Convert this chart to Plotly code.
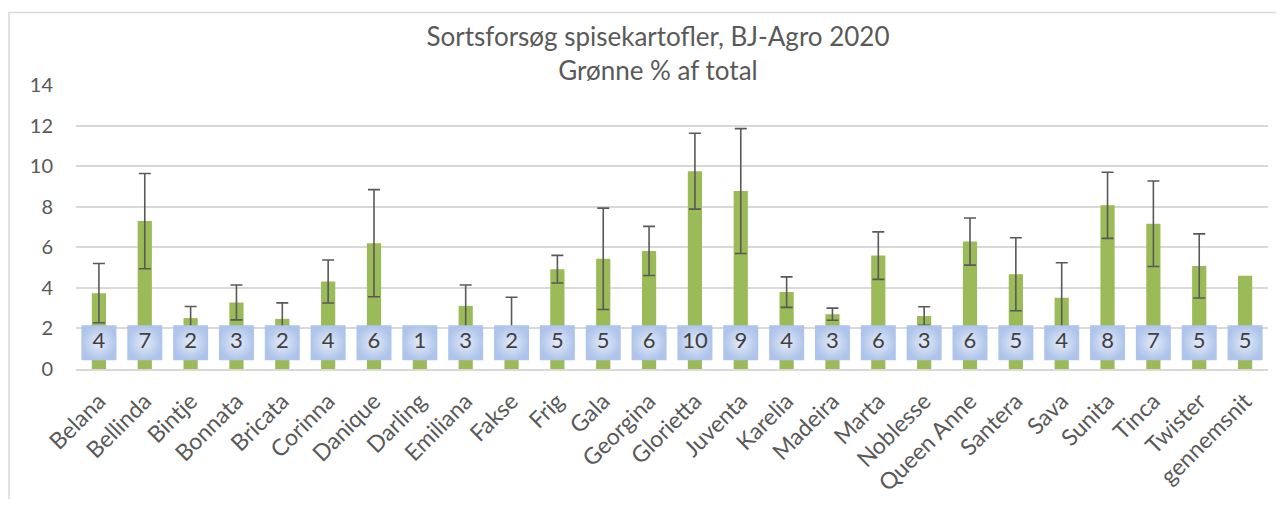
import plotly.graph_objects as go

# sorter og målte værdier (Grønne % af total)
sorter = ["Belana", "Bellinda", "Bintje", "Bonnata", "Bricata", "Corinna", "Danique",
          "Darling", "Emiliana", "Fakse", "Frig", "Gala", "Georgina", "Glorietta",
          "Juventa", "Karelia", "Madeira", "Marta", "Noblesse", "Queen Anne",
          "Santera", "Sava", "Sunita", "Tinca", "Twister", "gennemsnit"]
groenne = [3.74, 7.29, 2.51, 3.28, 2.47, 4.31, 6.20, 1.90, 3.11, 2.10, 4.92, 5.43, 5.82,
           9.75, 8.77, 3.79, 2.70, 5.59, 2.61, 6.28, 4.67, 3.51, 8.07, 7.16, 5.08, 4.60]
fejl = [1.46, 2.35, 0.57, 0.86, 0.79, 1.06, 2.64, None, 1.03, 1.44, 0.68, 2.50, 1.21,
        1.87, 3.08, 0.75, 0.30, 1.17, 0.46, 1.16, 1.80, 1.73, 1.63, 2.11, 1.58, None]
antal = [4, 7, 2, 3, 2, 4, 6, 1, 3, 2, 5, 5, 6, 10, 9, 4, 3, 6, 3, 6, 5, 4, 8, 7, 5, 5]
label_y = [1.29] * len(sorter)

grey = "#595959"
fnt = "Lato, Calibri, sans-serif"

# fejlstreger kun hvor der er en spredning
err_y = [v if e is not None else None for v, e in zip(groenne, fejl)]

fig = go.Figure()
fig.add_trace(go.Bar(
    x=sorter, y=groenne, width=0.31,
    marker=dict(color="#9bbb59", line=dict(width=0)),
))
fig.add_trace(go.Scatter(
    x=sorter, y=err_y, mode="markers",
    marker=dict(size=0.1, color="rgba(0,0,0,0)"),
    error_y=dict(type="data", array=fejl, visible=True, color=grey,
                 thickness=1.6, width=6),
))
# antal-bokse med blå gradient
fig.add_trace(go.Scatter(
    x=sorter, y=label_y, mode="markers+text",
    text=[str(n) for n in antal], textposition="middle center",
    textfont=dict(size=22, color="#404040", family=fnt),
    marker=dict(symbol="square", size=35, color="#aec4eb",
                gradient=dict(type="radial", color="#e4ebf7"),
                line=dict(width=0)),
))

# ramme om diagrammet
fig.add_shape(type="rect", xref="paper", yref="paper",
              x0=-0.0562, x1=1.2, y0=-1, y1=1.255,
              line=dict(color="#d9d9d9", width=1.5), layer="below")

# siden har 8px body-margin, så figuren er lidt mindre
fig.update_layout(
    width=1268, height=491,
    margin=dict(l=68, r=8, t=76.6, b=129.7),
    paper_bgcolor="white", plot_bgcolor="white",
    showlegend=False,
    font=dict(family=fnt, color=grey),
    title=dict(text="Sortsforsøg spisekartofler, BJ-Agro 2020<br>Grønne % af total",
               x=0.5126, xref="container", xanchor="center",
               y=0.923, yanchor="top", automargin=False,
               font=dict(size=26, color=grey)),
    xaxis=dict(tickangle=-45, tickfont=dict(size=23, color=grey),
               range=[-0.5, len(sorter) - 0.5],
               showgrid=False, showline=True, linecolor="#d9d9d9", linewidth=1.5,
               ticks="", ticklabelstandoff=8, automargin=False),
    yaxis=dict(range=[0, 14], dtick=2, tickfont=dict(size=20, color=grey),
               showgrid=True, gridcolor="#d9d9d9", gridwidth=1.5,
               zeroline=False, ticks="", ticklabelstandoff=22, automargin=False),
)

fig.write_html("out.html")
